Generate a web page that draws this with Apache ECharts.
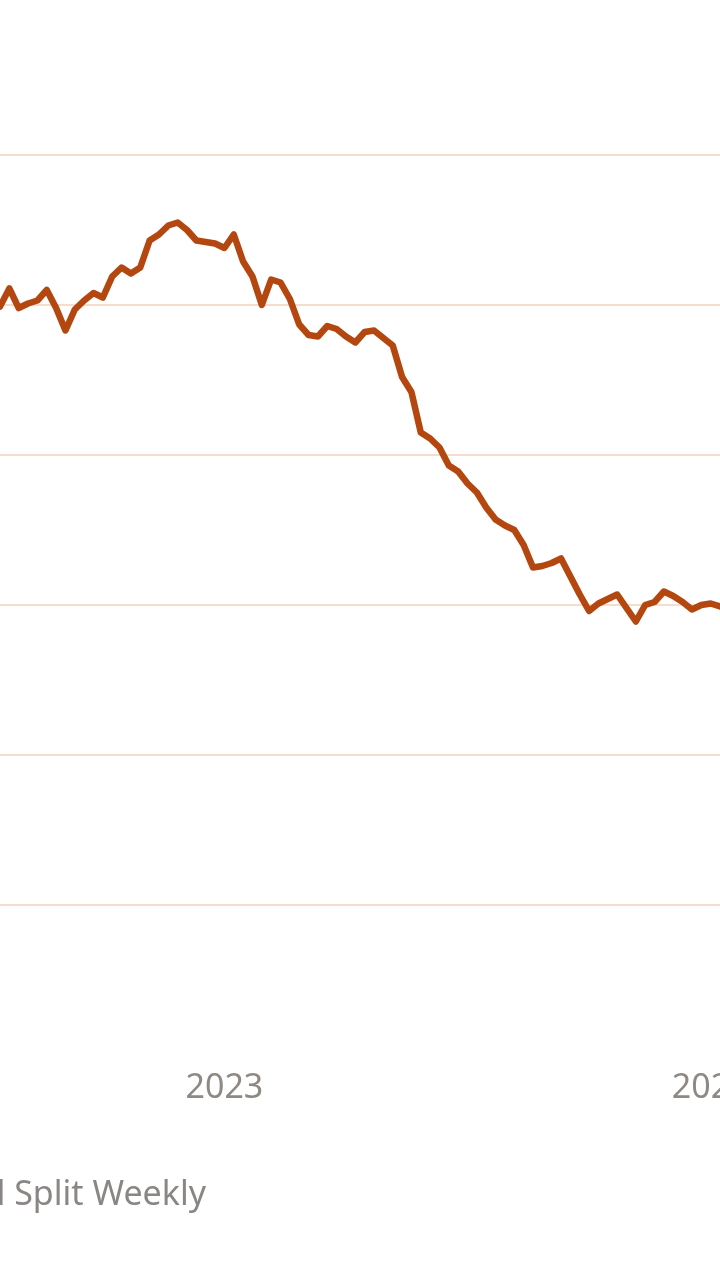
<!DOCTYPE html>
<html>
<head>
<meta charset="utf-8">
<title>Split Weekly</title>
<script src="https://cdn.jsdelivr.net/npm/echarts@6/dist/echarts.min.js"></script>
<style>
  html, body { margin: 0; padding: 0; background: #fff; overflow: hidden; }
  #chart { width: 720px; height: 1280px; }
</style>
</head>
<body>
<div id="chart"></div>
<script>
// weekly values (gridlines every 10 units)
const weeklyValues = [
  39.9, 41.1, 39.8, 40.1, 40.3, 41.0, 39.8, 38.3, 39.7, 40.3,
  40.8, 40.5, 41.9, 42.5, 42.1, 42.5, 44.3, 44.7, 45.3, 45.5,
  45.0, 44.3, 44.2, 44.1, 43.8, 44.7, 42.9, 41.9, 40.0, 41.7,
  41.5, 40.4, 38.7, 38.0, 37.9, 38.6, 38.4, 37.9, 37.5, 38.2,
  38.3, 37.8, 37.3, 35.2, 34.2, 31.5, 31.1, 30.5, 29.3, 28.9,
  28.1, 27.5, 26.5, 25.7, 25.3, 25.0, 24.0, 22.5, 22.6, 22.8,
  23.1, 21.9, 20.7, 19.6, 20.1, 20.4, 20.7, 19.8, 18.9, 20.0,
  20.2, 20.9, 20.6, 20.2, 19.7, 20.0, 20.1, 19.9
];
const weekIndex = weeklyValues.map((_, i) => i);

// year ticks and the week each one falls on
const yearLabels = ['2023', '2024'];
const yearLabelWeeks = [24, 76];

const footnote = 'Source: Weighted Split Weekly';

const chart = echarts.init(document.getElementById('chart'));

const option = {
  backgroundColor: '#ffffff',
  animation: false,
  grid: { left: 0, right: 0, top: 155, bottom: 375, outerBoundsMode: 'none', containLabel: false },
  xAxis: {
    type: 'category',
    data: weekIndex,
    boundaryGap: false,
    axisLine: { show: false },
    axisTick: { show: false },
    splitLine: { show: false },
    axisLabel: {
      interval: 0,
      margin: 166,
      fontSize: 34,
      fontFamily: 'Noto Sans',
      color: '#8f8984',
      formatter: function (value) {
        const k = yearLabelWeeks.indexOf(Number(value));
        return k >= 0 ? yearLabels[k] : '';
      }
    }
  },
  yAxis: {
    type: 'value',
    min: 0,
    max: 50,
    interval: 10,
    axisLine: { show: false },
    axisTick: { show: false },
    axisLabel: { show: false },
    splitLine: { lineStyle: { color: '#f6dccb', width: 2 } }
  },
  series: [{
    type: 'line',
    data: weeklyValues,
    symbol: 'none',
    clip: false,
    lineStyle: { color: '#b4470f', width: 6.5, join: 'round', cap: 'round' }
  }],
  graphic: [{
    type: 'text',
    x: 206,
    y: 1178,
    style: {
      text: footnote,
      fontSize: 34,
      fontFamily: 'Noto Sans',
      fill: '#8a8683',
      textAlign: 'right'
    }
  }]
};

chart.setOption(option);
</script>
</body>
</html>
